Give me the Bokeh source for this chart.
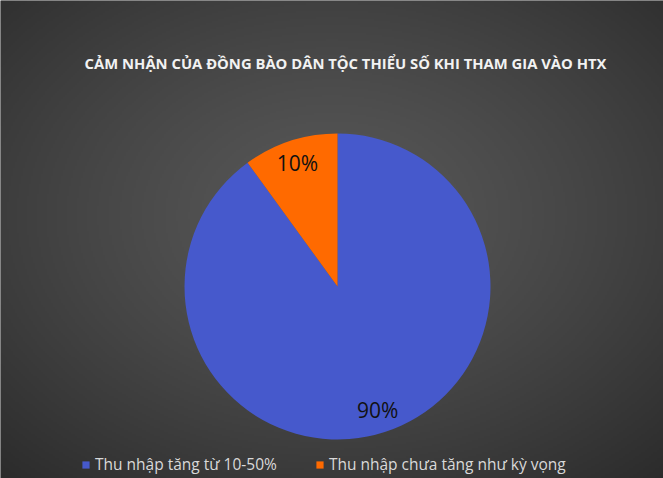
import numpy as np
from bokeh.plotting import figure
from bokeh.models import Range1d, Label, Legend, LegendItem
from bokeh.core.properties import value
from bokeh.embed import file_html
from bokeh.resources import INLINE

# ---- data ----
title_text = "CẢM NHẬN CỦA ĐỒNG BÀO DÂN TỘC THIỂU SỐ KHI THAM GIA VÀO HTX"
categories = ["Thu nhập tăng từ 10-50%", "Thu nhập chưa tăng như kỳ vọng"]
values_pct = [90, 10]
colors = ["#4659cc", "#ff6a00"]

# ---- layout (pixels) ----
W, H = 663, 478
scale = 153.0          # pixels per data unit (pie radius = 1)
cx_page, cy_page = 337.0, 286.0
x0 = (0 - cx_page) / scale
x1 = (W - cx_page) / scale
y1 = (cy_page - 0) / scale
y0 = (cy_page - H) / scale

p = figure(width=W, height=H, output_backend="svg", toolbar_location=None,
           x_range=Range1d(x0, x1), y_range=Range1d(y0, y1),
           min_border=0, outline_line_color=None)
p.axis.visible = False
p.grid.visible = False
p.background_fill_color = "#454545"
p.border_fill_color = "#454545"

# radial gradient background
ny, nx = 240, 330
gx = np.linspace(0, 1, nx)
gy = np.linspace(0, 1, ny)
GX, GY = np.meshgrid(gx, gy)
d = np.sqrt(((GX - 0.5) / 0.75) ** 2 + ((GY - 0.55) / 0.75) ** 2)
d = np.clip(d, 0, 1)
c_in, c_out = 0x58, 0x2b
lv = (c_in + (c_out - c_in) * d ** 1.3).astype(np.uint32)
img = (255 << 24) | (lv << 16) | (lv << 8) | lv
p.image_rgba(image=[img.astype(np.uint32)], x=x0, y=y0, dw=x1 - x0, dh=y1 - y0)

# ---- pie wedges: start at 12 o'clock, small slice goes counter-clockwise ----
total = float(sum(values_pct))
order = [1, 0]
starts, ends = {}, {}
a = np.pi / 2
for i in order:
    starts[i] = a
    a += 2 * np.pi * values_pct[i] / total
    ends[i] = a

renderers = []
for i in range(len(categories)):
    r = p.wedge(x=0, y=0, radius=1.0, start_angle=starts[i], end_angle=ends[i],
                fill_color=colors[i], line_color=None)
    renderers.append(r)

# pie data labels
mids = [(starts[i] + ends[i]) / 2 for i in range(len(categories))]
lab_r = 0.85
p.text(x=[lab_r * np.cos(m) for m in mids], y=[lab_r * np.sin(m) for m in mids],
       text=[f"{v}%" for v in values_pct], text_align="center",
       text_baseline="middle", text_font=value("Open Sans"),
       text_font_size="21px", text_color="#111111")

# title
p.add_layout(Label(x=345, y=H - 62, x_units="screen", y_units="screen",
                   text=title_text, text_align="center", text_baseline="middle",
                   text_font="Open Sans", text_font_style="bold",
                   text_font_size="14.8px", text_color="#f2f2f2"))

legend = Legend(items=[LegendItem(label=categories[i], renderers=[renderers[i]])
                       for i in range(len(categories))],
                orientation="horizontal", location=(81, 3),
                glyph_width=9, glyph_height=9, spacing=38, padding=2,
                label_text_font="Open Sans", label_text_font_size="15.5px",
                label_text_color="#d9d9d9", border_line_color=None,
                background_fill_alpha=0, label_standoff=5, margin=0)
p.add_layout(legend, "center")

html = file_html(p, INLINE)
html = html.replace("<body>", '<body style="background:#3a3a3a">', 1)
open("out.html", "w").write(html)
